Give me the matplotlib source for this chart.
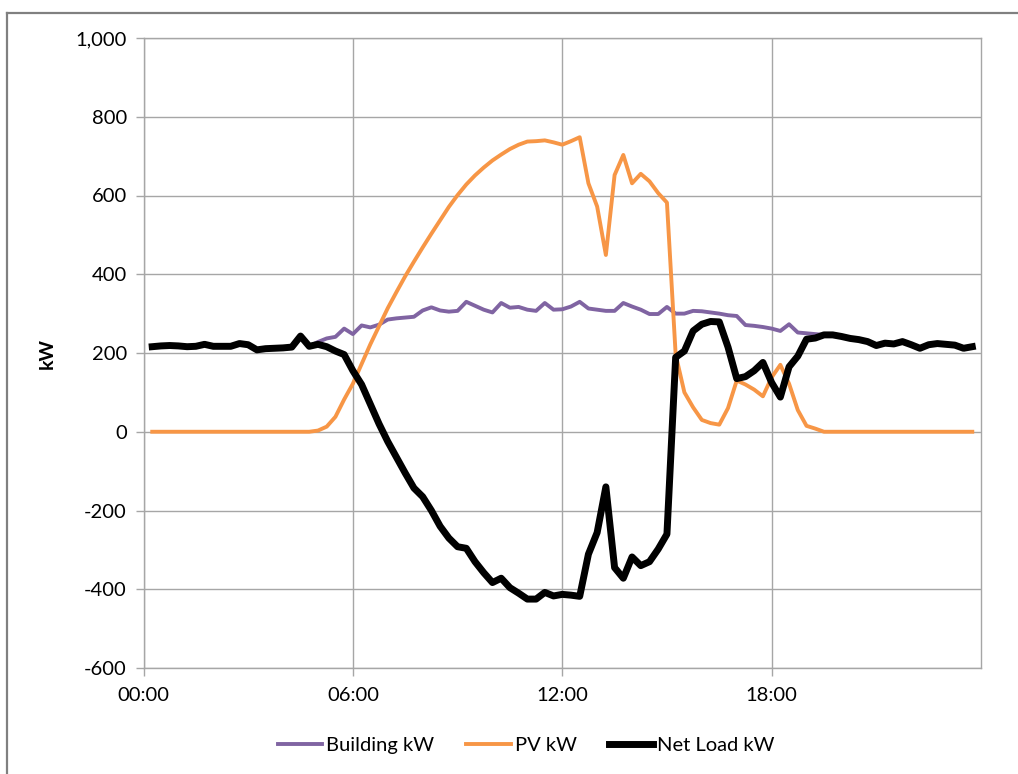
import numpy as np
import matplotlib
matplotlib.use("Agg")
import matplotlib.pyplot as plt
from matplotlib.ticker import FuncFormatter, MultipleLocator
from matplotlib.lines import Line2D

plt.rcParams['font.family'] = ['Lato', 'DejaVu Sans']

# 15-minute interval readings, 00:15 through 23:45
hours = np.arange(1, 96) * 0.25

building_kw = [216, 218, 219, 218, 216, 217, 222, 217, 217, 217,
               224, 221, 208, 211, 212, 213, 215, 243, 217, 228,
               237, 241, 262, 248, 270, 265, 272, 285, 288, 290,
               292, 308, 316, 308, 305, 307, 330, 320, 310, 303,
               327, 315, 317, 310, 307, 327, 310, 311, 318, 330,
               313, 310, 307, 307, 327, 318, 310, 299, 299, 317,
               300, 300, 307, 306, 303, 300, 296, 294, 271, 269,
               266, 262, 256, 273, 252, 250, 248, 246, 246, 242,
               237, 234, 229, 219, 225, 223, 229, 221, 212, 221,
               224, 222, 220, 212, 216]

pv_kw = [0, 0, 0, 0, 0, 0, 0, 0, 0, 0,
         0, 0, 0, 0, 0, 0, 0, 0, 0, 3,
         13, 38, 82, 122, 172, 222, 268, 314, 355, 395,
         432, 468, 503, 537, 571, 601, 628, 651, 671, 689,
         704, 718, 729, 737, 738, 740, 735, 729, 738, 748,
         631, 572, 449, 652, 703, 631, 655, 636, 606, 582,
         196, 100, 62, 30, 22, 18, 60, 130, 120, 107,
         90, 138, 170, 122, 55, 15, 8, 0, 0, 0,
         0, 0, 0, 0, 0, 0, 0, 0, 0, 0,
         0, 0, 0, 0, 0]

net_load_kw = [216, 218, 219, 218, 216, 217, 222, 217, 217, 217,
               224, 221, 208, 211, 212, 213, 215, 243, 217, 222,
               216, 205, 196, 155, 120, 70, 20, -25, -65, -105,
               -143, -165, -200, -240, -270, -292, -296, -330, -358, -383,
               -372, -396, -410, -425, -425, -408, -417, -413, -415, -418,
               -311, -256, -140, -345, -372, -318, -340, -330, -298, -260,
               189, 205, 256, 273, 280, 279, 215, 135, 140, 155,
               176, 125, 88, 165, 192, 235, 238, 246, 246, 242,
               237, 234, 229, 219, 225, 223, 229, 221, 212, 221,
               224, 222, 220, 212, 216]

tick_hours = [0, 6, 12, 18]
tick_labels = ["00:00", "06:00", "12:00", "18:00"]

fig = plt.figure(figsize=(10.18, 7.74), dpi=100)
ax = fig.add_axes([143.5 / 1018, 1 - 668 / 774, (981 - 143.5) / 1018, (668 - 38) / 774])

grid_col = "#a6a6a6"
ax.plot(hours, building_kw, color="#8064a2", lw=2.8, label="Building kW", solid_joinstyle="round")
ax.plot(hours, pv_kw, color="#f79646", lw=2.8, label="PV kW", solid_joinstyle="round")
ax.plot(hours, net_load_kw, color="black", lw=5, label="Net Load kW", solid_joinstyle="round")

ax.set_xlim(0, 24)
ax.set_ylim(-600, 1000)
ax.yaxis.set_major_locator(MultipleLocator(200))
ax.yaxis.set_major_formatter(FuncFormatter(lambda v, p: f"{v:,.0f}"))
ax.set_xticks(tick_hours)
ax.set_xticklabels(tick_labels)

ax.grid(True, color=grid_col, lw=1)
ax.set_axisbelow(True)
for s in ax.spines.values():
    s.set_color(grid_col)
    s.set_linewidth(1)
ax.tick_params(axis="both", colors=grid_col, labelcolor="black", labelsize=14.5, length=6, width=1)
ax.tick_params(axis="y", pad=6)
ax.tick_params(axis="x", pad=8)

ax.set_ylabel("kW", fontsize=14, fontweight="bold", labelpad=14)

leg = fig.legend(loc="center", bbox_to_anchor=(0.517, 1 - 745 / 774), ncol=3, frameon=False,
                 fontsize=14.5, handlelength=2.2, handletextpad=0.2, columnspacing=1.6)

# outer chart border (top and left edges)
fig.add_artist(Line2D([7 / 1018, 1.0], [1 - 13 / 774, 1 - 13 / 774], color="#808080", lw=1.6,
                      transform=fig.transFigure))
fig.add_artist(Line2D([7 / 1018, 7 / 1018], [0.0, 1 - 13 / 774], color="#808080", lw=1.6,
                      transform=fig.transFigure))

fig.savefig("out.png", dpi=100)
